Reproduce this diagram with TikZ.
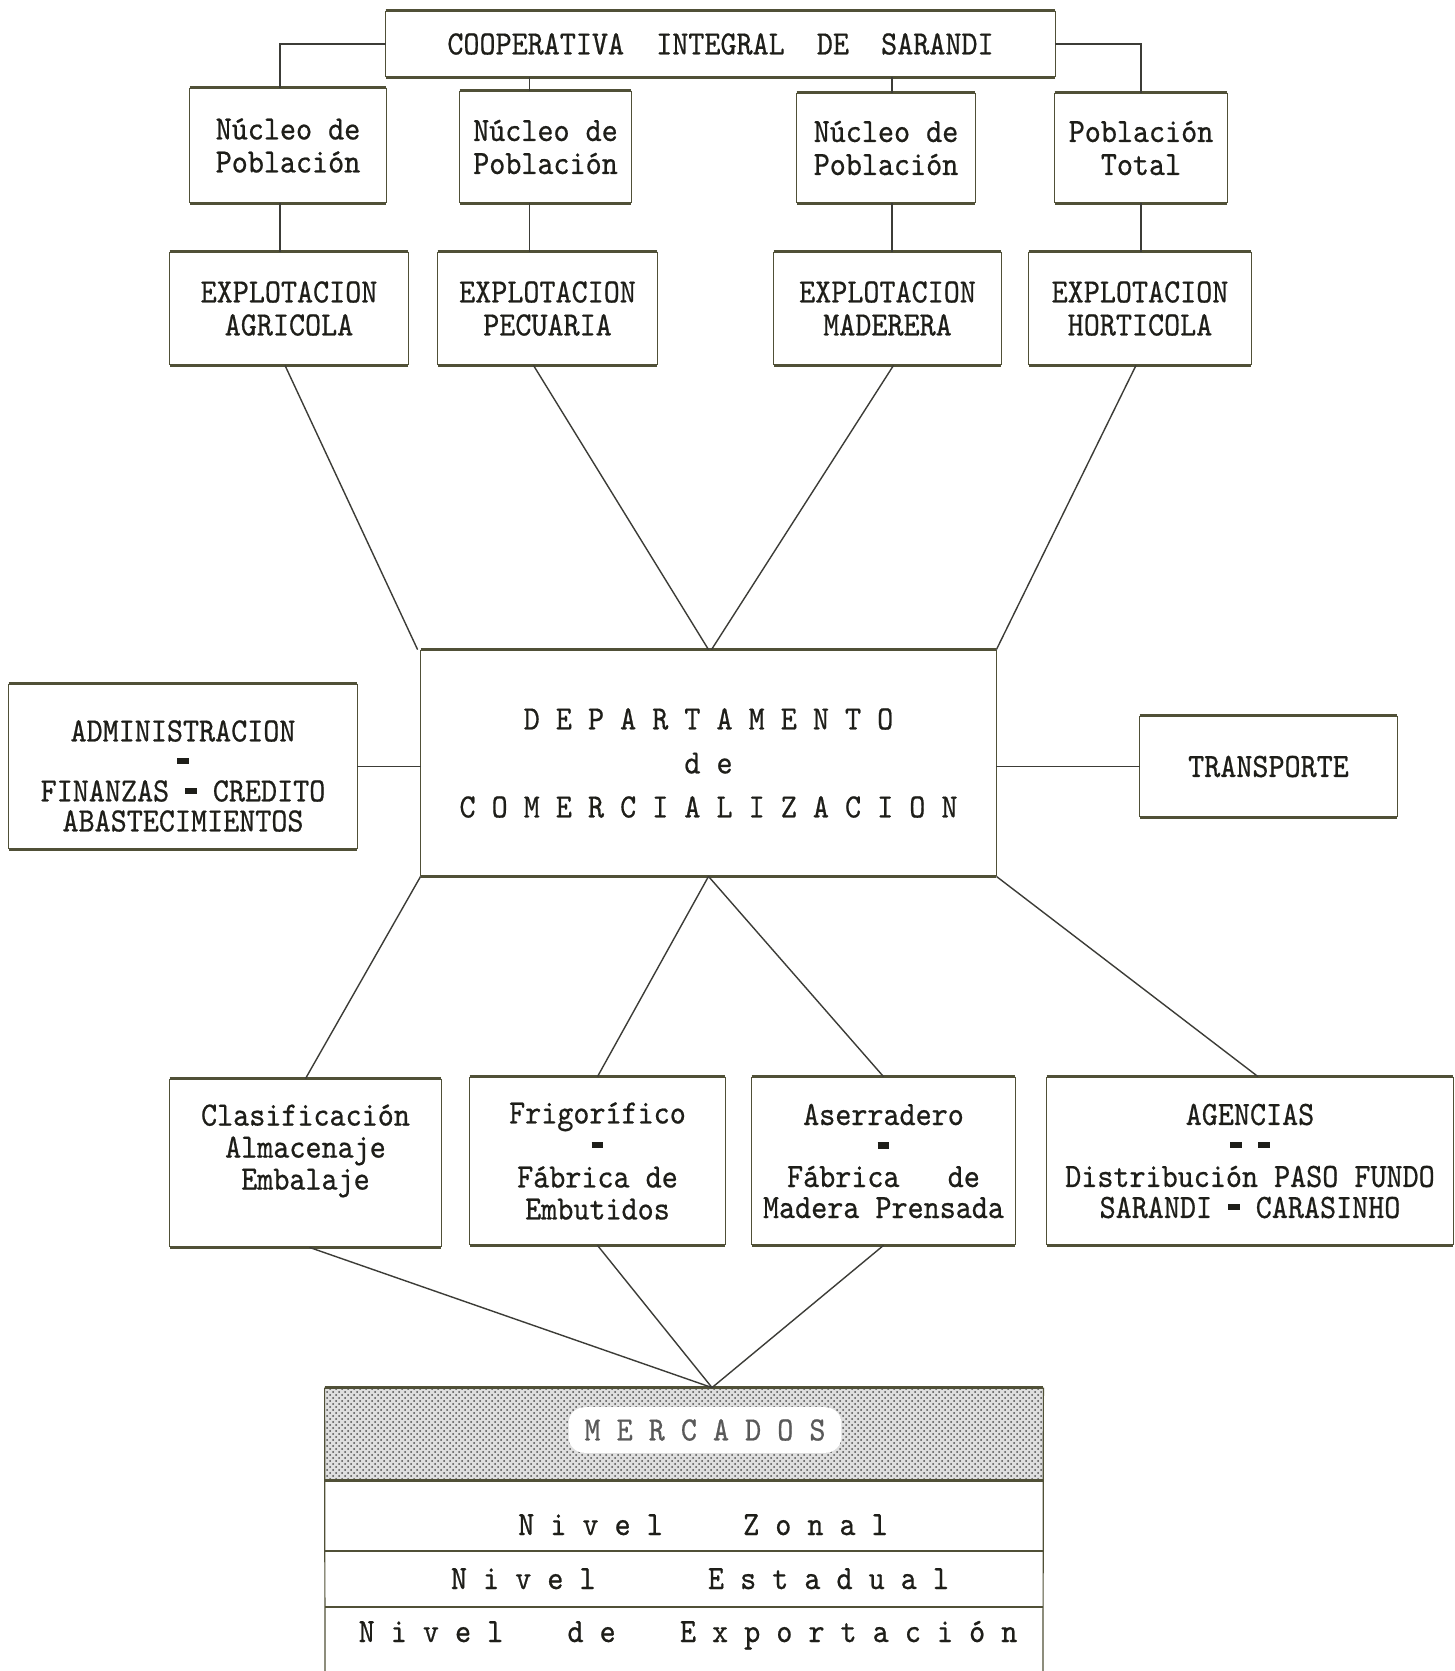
\documentclass[tikz,border=0pt]{standalone}
\usepackage{fontspec}
\newfontfamily\tw[FakeStretch=0.9,FakeBold=0.6]{lmmono10-regular.otf}
\usetikzlibrary{patterns,shapes.geometric}
\definecolor{ink}{RGB}{30,30,25}
\definecolor{edgec}{RGB}{80,80,55}
\definecolor{linec}{RGB}{60,60,55}
\newcommand\tdash{\rule[0.22em]{0.34em}{0.18em}}
\newcommand\mkbox[7][]{%
  \node[boxtext, #1, minimum width={(#5-#3)*0.5pt}, minimum height={(#6-#4)*0.5pt}] (#2) at ({(#3+#5)/2},{(#4+#6)/2}) {#7};
  \draw[sideline] (#2.north west) -- (#2.south west) (#2.north east) -- (#2.south east);
  \draw[edgeline] (#2.north west) -- (#2.north east) (#2.south west) -- (#2.south east);}
\begin{document}
\begin{tikzpicture}[x=0.5pt,y=-0.5pt,
  boxtext/.style={inner sep=0pt, align=center, text=ink, font=\tw\fontsize{17}{16.5}\selectfont},
  edgeline/.style={draw=edgec, line width=1.5pt},
  sideline/.style={draw=edgec, line width=0.6pt},
  rowline/.style={draw=edgec, line width=1.1pt},
  conn/.style={draw=linec, line width=0.7pt},
  rowtext/.style={text=ink, font=\tw\fontsize{17}{16.5}\selectfont, inner sep=0pt, text height=11pt, text depth=3pt}]
\useasboundingbox (0,0) rectangle (1455,1671);
\fill[white] (0,0) rectangle (1455,1671);

% top
\mkbox{top}{386}{11}{1055}{77}{COOPERATIVA~~INTEGRAL~~DE~~SARANDI}
\mkbox{nuc1}{190}{88}{386}{203}{Núcleo de\\Población}
\mkbox{nuc2}{460}{91}{631}{203}{Núcleo de\\Población}
\mkbox{nuc3}{797}{93}{975}{203}{Núcleo de\\Población}
\mkbox{pob}{1055}{93}{1227}{203}{Población\\Total}

\mkbox{agr}{170}{252}{408}{365}{EXPLOTACION\\AGRICOLA}
\mkbox{pec}{438}{252}{657}{365}{EXPLOTACION\\PECUARIA}
\mkbox{mad}{774}{252}{1001}{365}{EXPLOTACION\\MADERERA}
\mkbox{hor}{1029}{252}{1251}{365}{EXPLOTACION\\HORTICOLA}

\mkbox[font=\tw\fontsize{17}{22}\selectfont]{depto}{421}{650}{996}{876}{D~E~P~A~R~T~A~M~E~N~T~O\\d~e\\C~O~M~E~R~C~I~A~L~I~Z~A~C~I~O~N}
\mkbox{adm}{9}{684}{357}{849}{}
\node[boxtext, font=\tw\fontsize{17}{15}\selectfont] (admt) at (183,776) {ADMINISTRACION\\\tdash\\FINANZAS \tdash{} CREDITO\\ABASTECIMIENTOS};
\mkbox{trans}{1140}{716}{1397}{817}{TRANSPORTE}

\mkbox[font=\tw\fontsize{17}{16}\selectfont]{clas}{170}{1079}{441}{1247}{Clasificación\\Almacenaje\\Embalaje\\~}
\mkbox[font=\tw\fontsize{17}{16}\selectfont]{frig}{470}{1077}{725}{1245}{Frigorífico\\\tdash\\Fábrica de\\Embutidos}
\mkbox[font=\tw\fontsize{17}{15.5}\selectfont]{aser}{752}{1077}{1015}{1245}{Aserradero\\\tdash\\Fábrica~~~de\\Madera Prensada}
\mkbox[font=\tw\fontsize{17}{15.5}\selectfont]{agen}{1047}{1077}{1453}{1245}{AGENCIAS\\\tdash~\tdash\\Distribución PASO FUNDO\\SARANDI \tdash{} CARASINHO}

% mercados
\node[minimum width=359pt, minimum height=46pt, inner sep=0pt, preaction={fill=gray!25}, pattern=crosshatch dots, pattern color=gray!60!black] (merchead) at (684,1434) {};
\node[fill=white, rounded corners=8pt, inner xsep=8pt, inner ysep=6pt, text=gray!70!black, font=\tw\fontsize{17}{16.5}\selectfont] (merc) at (705,1430) {M~E~R~C~A~D~O~S};
\draw[sideline] (merchead.north west) -- (325,1671) (merchead.north east) -- (1043,1671);
\draw[edgeline] (merchead.north west) -- (merchead.north east) (merchead.south west) -- (merchead.south east);
\draw[rowline] (325,1551) -- (1043,1551) (325,1607) -- (1043,1607);
\node[rowtext] (zonal) at (703,1527) {N~i~v~e~l~~~~~Z~o~n~a~l};
\node[rowtext] (estadual) at (700,1581) {N~i~v~e~l~~~~~~~E~s~t~a~d~u~a~l};
\node[rowtext] (export) at (688,1634) {N~i~v~e~l~~~~d~e~~~~E~x~p~o~r~t~a~c~i~ó~n};
\coordinate (apex) at ([xshift=14pt]merchead.north);

% connectors top
\draw[conn] (top.west) -| ([xshift=-4pt]nuc1.north);
\draw[conn] (top.east) -| (pob.north);
\draw[conn] ([xshift=-8pt]nuc2.north) -- ([xshift=-8pt]nuc2.north |- top.south);
\draw[conn] ([xshift=3pt]nuc3.north) -- ([xshift=3pt]nuc3.north |- top.south);
\draw[conn] ([xshift=-4pt]nuc1.south) -- ([xshift=-4pt]nuc1.south |- agr.north);
\draw[conn] ([xshift=-8pt]nuc2.south) -- ([xshift=-8pt]nuc2.south |- pec.north);
\draw[conn] ([xshift=3pt]nuc3.south) -- ([xshift=3pt]nuc3.south |- mad.north);
\draw[conn] (pob.south) -- (pob.south |- hor.north);

% to departamento
\draw[conn] ([xshift=-2pt]agr.south) -- ([xshift=-1.5pt]depto.north west);
\draw[conn] ([xshift=-7pt]pec.south) -- (depto.north);
\draw[conn] ([xshift=3pt]mad.south) -- ([xshift=1.5pt]depto.north);
\draw[conn] ([xshift=-2pt]hor.south) -- (depto.north east);
\draw[conn] (adm.east) -- (adm.east -| depto.west);
\draw[conn] (depto.east |- trans.west) -- (trans.west);

% from departamento
\draw[conn] (depto.south west) -- (clas.north);
\draw[conn] (depto.south) -- (frig.north);
\draw[conn] (depto.south) -- (aser.north);
\draw[conn] (depto.south east) -- ([xshift=4pt]agen.north);

% to mercados
\draw[conn] ([xshift=2pt]clas.south) -- (apex);
\draw[conn] (frig.south) -- (apex);
\draw[conn] (aser.south) -- (apex);
\end{tikzpicture}
\end{document}
